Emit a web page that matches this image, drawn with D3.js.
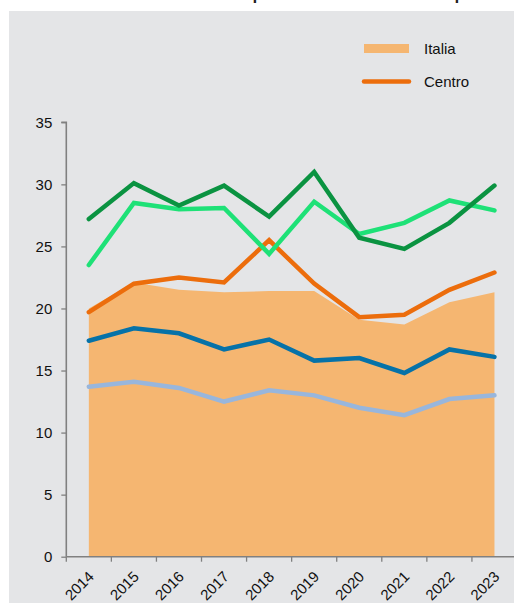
<!DOCTYPE html>
<html><head><meta charset="utf-8">
<script src="https://cdn.jsdelivr.net/npm/d3@7"></script>
<style>html,body{margin:0;padding:0;background:#fff;overflow:hidden}svg{display:block}</style>
</head><body>
<svg id="c" width="514" height="603"></svg>
<script>
const years = ["2014","2015","2016","2017","2018","2019","2020","2021","2022","2023"];
const italia = [20.0, 22.1, 21.5, 21.3, 21.4, 21.4, 19.1, 18.7, 20.5, 21.3];
const centro = [19.7, 22.0, 22.5, 22.1, 25.5, 22.0, 19.3, 19.5, 21.5, 22.9];
const darkGreen = [27.2, 30.1, 28.3, 29.9, 27.4, 31.0, 25.7, 24.8, 26.9, 29.9];
const lightGreen = [23.5, 28.5, 28.0, 28.1, 24.4, 28.6, 26.0, 26.9, 28.7, 27.9];
const blue = [17.4, 18.4, 18.0, 16.7, 17.5, 15.8, 16.0, 14.8, 16.7, 16.1];
const lightBlue = [13.7, 14.1, 13.6, 12.5, 13.4, 13.0, 12.0, 11.4, 12.7, 13.0];
const yTicks = [0, 5, 10, 15, 20, 25, 30, 35];

const svg = d3.select("#c");
const font = "'Liberation Sans', Arial, sans-serif";

svg.append("rect").attr("x", 9).attr("y", 11).attr("width", 505).attr("height", 592).attr("fill", "#e4e5e7");

// title fragments (cut off at top, as in the reference)
svg.append("text").attr("x", 252).attr("y", -2).attr("font-family", font).attr("font-size", 26).attr("fill", "#222").text("p");
svg.append("text").attr("x", 454).attr("y", -2).attr("font-family", font).attr("font-size", 26).attr("fill", "#222").text("p");

const x = d3.scaleBand().domain(years).range([66.3, 517]).padding(0);
const y = d3.scaleLinear().domain([0, 35]).range([556.7, 122.3]);
const cx = d => x(d) + x.bandwidth() / 2;

// area
svg.append("path")
  .datum(years.map((yr, i) => [yr, italia[i]]))
  .attr("fill", "#f5b671")
  .attr("d", d3.area().x(d => cx(d[0])).y0(y(0)).y1(d => y(d[1])));

const line = d3.line().x(d => cx(d[0])).y(d => y(d[1]));
const series = [
  [lightBlue, "#98b6dc"],
  [blue, "#0672a8"],
  [centro, "#ec6d0c"],
  [lightGreen, "#1ee177"],
  [darkGreen, "#0a9341"]
];
series.forEach(([vals, col]) => {
  svg.append("path")
    .datum(years.map((yr, i) => [yr, vals[i]]))
    .attr("fill", "none").attr("stroke", col).attr("stroke-width", 4.5)
    .attr("stroke-linejoin", "miter").attr("stroke-linecap", "round")
    .attr("d", line);
});

// axes
const yAxis = svg.append("g").attr("transform", "translate(66.3,0)")
  .call(d3.axisLeft(y).tickValues(yTicks).tickSize(5).tickPadding(9));
yAxis.select(".domain").attr("stroke", "#808080").attr("stroke-width", 1.6).attr("d", `M-5,${y(35)}H0V${y(0)}`);
yAxis.selectAll(".tick line").attr("stroke", "#808080").attr("stroke-width", 1.3);
yAxis.selectAll("text").attr("font-family", font).attr("font-size", 15).attr("fill", "#111");

const xAxis = svg.append("g").attr("transform", `translate(0,${y(0)})`)
  .call(d3.axisBottom(x).tickSize(0).tickFormat(""));
xAxis.select(".domain").attr("stroke", "#808080").attr("stroke-width", 1.6).attr("d", `M66.3,0H514`);
xAxis.selectAll(".tick").remove();
// tick marks at band boundaries
xAxis.selectAll("line.b").data(years).join("line")
  .attr("x1", d => x(d)).attr("x2", d => x(d)).attr("y1", 0).attr("y2", 5)
  .attr("stroke", "#808080").attr("stroke-width", 1.3);
xAxis.selectAll("text.l").data(years).join("text")
  .attr("transform", d => `translate(${cx(d) - 2},13) rotate(-45)`)
  .attr("text-anchor", "end").attr("dy", "0.75em")
  .attr("font-family", font).attr("font-size", 15).attr("fill", "#111")
  .text(d => d);

// legend
const lg = svg.append("g");
lg.append("rect").attr("x", 364).attr("y", 44).attr("width", 45).attr("height", 9).attr("fill", "#f5b671");
lg.append("text").attr("x", 424).attr("y", 54).attr("font-family", font).attr("font-size", 15).attr("fill", "#111").text("Italia");
lg.append("line").attr("x1", 364).attr("x2", 409).attr("y1", 81.5).attr("y2", 81.5)
  .attr("stroke", "#ec6d0c").attr("stroke-width", 4.5).attr("stroke-linecap", "round");
lg.append("text").attr("x", 424).attr("y", 87).attr("font-family", font).attr("font-size", 15).attr("fill", "#111").text("Centro");
</script>
</body></html>
